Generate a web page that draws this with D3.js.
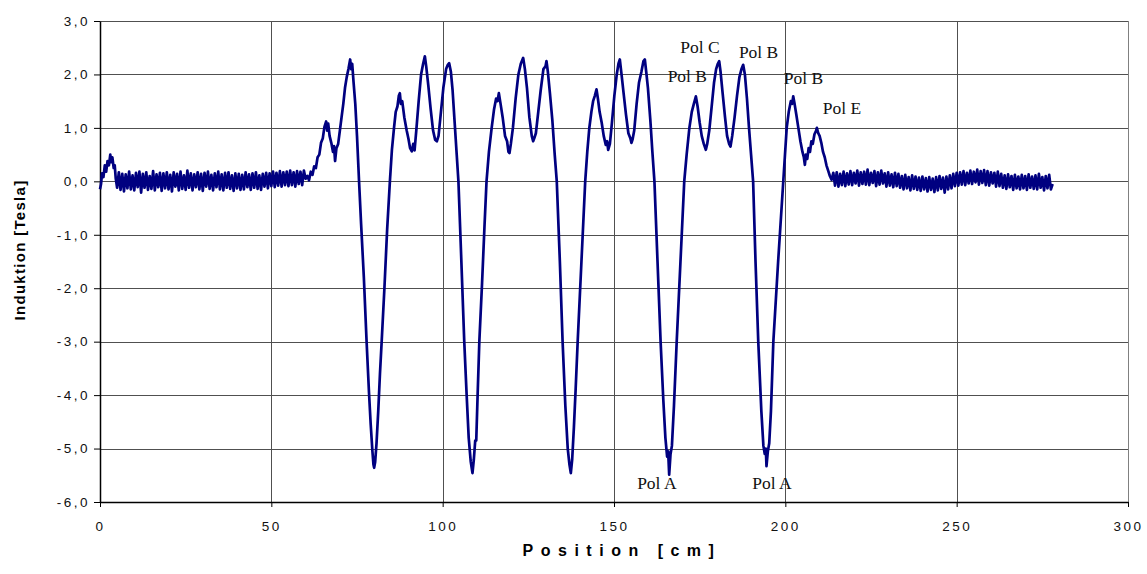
<!DOCTYPE html>
<html>
<head>
<meta charset="utf-8">
<script src="https://cdn.jsdelivr.net/npm/d3@7"></script>
<style>
  html, body { margin: 0; padding: 0; background: #fff; }
  svg { display: block; }
</style>
</head>
<body>
<svg id="chart" width="1147" height="574"></svg>
<script>
// Magnetic induction measured along the magnet (Position in cm, Induktion in Tesla)

// Start of the scan: short transient at the probe entry
const onset = [
  [0, -0.15], [0.3, -0.05], [0.6, 0.15], [1.0, 0.08], [1.4, 0.3], [1.8, 0.18],
  [2.2, 0.38], [2.6, 0.3], [3.0, 0.5], [3.3, 0.36], [3.6, 0.45], [4.0, 0.25],
  [4.3, 0.3], [4.6, 0.05]
];

// Baseline before the magnet, sampled every 0.5 cm from 5 cm
const baselineBeforeStart = 5;
const baselineStep = 0.5;
const baselineBefore = [
  -0.12, 0.17, -0.16, 0.14, -0.19, 0.13, -0.13, 0.18, -0.15, 0.11,
  -0.17, 0.16, -0.11, 0.18, -0.21, 0.14, -0.12, 0.17, -0.16, 0.10,
  -0.14, 0.19, -0.17, 0.13, -0.11, 0.16, -0.18, 0.15, -0.13, 0.17,
  -0.15, 0.12, -0.19, 0.17, -0.10, 0.14, -0.17, 0.18, -0.14, 0.11,
  -0.16, 0.20, -0.12, 0.15, -0.17, 0.13, -0.11, 0.17, -0.15, 0.14,
  -0.18, 0.16, -0.10, 0.18, -0.14, 0.12, -0.17, 0.15, -0.11, 0.18,
  -0.15, 0.13, -0.17, 0.16, -0.12, 0.17, -0.14, 0.11, -0.18, 0.15,
  -0.13, 0.14, -0.16, 0.12, -0.15, 0.17, -0.11, 0.13, -0.16, 0.15,
  -0.12, 0.17, -0.14, 0.11, -0.16, 0.14, -0.10, 0.16, -0.13, 0.15,
  -0.09, 0.18, -0.11, 0.16, -0.08, 0.19, -0.10, 0.17, -0.07, 0.18,
  -0.09, 0.20, -0.07, 0.17, -0.10, 0.19, -0.05, 0.18, -0.07, 0.20,
  0.05
];

// Pole section of the magnet
const magnetSection = [
  [60.5, 0.10], [61, 0.02], [61.5, 0.18], [62, 0.12], [62.5, 0.28], [63, 0.25],
  [63.5, 0.45], [64, 0.5], [64.5, 0.72], [65, 0.8], [65.5, 1.02], [66, 1.12],
  [66.3, 0.95], [66.6, 1.08], [67, 0.85], [67.5, 0.72], [68, 0.55], [68.3, 0.66],
  [68.6, 0.38], [69, 0.62], [69.5, 0.7], [70, 0.95], [70.5, 1.2], [71, 1.45],
  [71.5, 1.75], [72, 1.95], [72.5, 2.1], [73, 2.28], [73.3, 2.1], [73.6, 2.2],
  [74, 1.85], [74.5, 1.45], [75, 0.85], [75.6, 0.0], [76.2, -0.8], [77, -1.8],
  [77.8, -3.0], [78.5, -3.95], [79, -4.55], [79.5, -5.05], [79.8, -5.3], [80, -5.36],
  [80.3, -5.25], [80.7, -4.9], [81.2, -4.3], [81.7, -3.6], [82.2, -3.0], [83, -2.0],
  [83.8, -0.9], [84.6, 0.0], [85.2, 0.6], [85.8, 1.0], [86.3, 1.3], [86.8, 1.4],
  [87.2, 1.6], [87.5, 1.65], [87.8, 1.45], [88.2, 1.5], [88.8, 1.2], [89.5, 0.95],
  [90, 0.8], [90.5, 0.62], [91, 0.56], [91.4, 0.7], [91.8, 0.58], [92.3, 0.95],
  [93, 1.5], [93.7, 2.0], [94.3, 2.2], [94.8, 2.34], [95.2, 2.15], [95.8, 1.8],
  [96.5, 1.35], [97.2, 0.95], [97.8, 0.78], [98.3, 0.75], [98.8, 0.85], [99.5, 1.3],
  [100.2, 1.75], [101, 2.1], [101.5, 2.18], [101.9, 2.21], [102.4, 2.05], [102.9, 1.7],
  [103.5, 1.1], [104.1, 0.5], [104.6, 0.0], [105.4, -1.4], [106.3, -3.0], [107, -4.0],
  [107.6, -4.8], [108.2, -5.25], [108.7, -5.46], [109.1, -5.2], [109.5, -4.85], [109.8, -4.85],
  [110.2, -4.0], [110.7, -3.0], [111.5, -1.9], [112.2, -0.85], [112.8, 0.0], [113.5, 0.55],
  [114.3, 1.0], [115.0, 1.35], [115.6, 1.55], [116.0, 1.5], [116.4, 1.65], [116.9, 1.45],
  [117.5, 1.2], [118.2, 0.85], [118.8, 0.75], [119.2, 0.55], [119.5, 0.53], [119.9, 0.7],
  [120.5, 1.0], [121.3, 1.55], [122.1, 2.0], [122.8, 2.2], [123.5, 2.31], [124.0, 2.1],
  [124.6, 1.75], [125.3, 1.2], [126.0, 0.85], [126.4, 0.75], [126.7, 0.8], [127.2, 0.9],
  [127.9, 1.3], [128.6, 1.7], [129.4, 2.1], [130.0, 2.15], [130.3, 2.25], [130.7, 2.05],
  [131.3, 1.65], [132.0, 1.15], [132.7, 0.5], [133.3, 0.0], [134.2, -1.5], [135.0, -3.0],
  [135.8, -4.2], [136.5, -5.0], [137.0, -5.3], [137.4, -5.46], [137.8, -5.2], [138.3, -4.6],
  [138.8, -3.9], [139.4, -3.0], [140.5, -1.5], [141.6, 0.0], [142.2, 0.55], [142.8, 1.0],
  [143.4, 1.3], [143.9, 1.5], [144.4, 1.6], [144.9, 1.72], [145.3, 1.55], [145.8, 1.3],
  [146.4, 1.1], [147.0, 0.85], [147.6, 0.68], [148.0, 0.75], [148.3, 0.59], [148.8, 0.7],
  [149.4, 1.1], [150.1, 1.6], [150.8, 2.0], [151.3, 2.2], [151.7, 2.28], [152.2, 2.0],
  [152.8, 1.65], [153.5, 1.25], [154.2, 0.9], [154.8, 0.8], [155.1, 0.72], [155.4, 0.78],
  [155.9, 0.95], [156.6, 1.45], [157.3, 1.85], [158.0, 2.05], [158.6, 2.25], [159.0, 2.28],
  [159.4, 2.05], [159.9, 1.75], [160.6, 1.15], [161.2, 0.55], [161.8, 0.0], [162.7, -1.5],
  [163.6, -3.0], [164.4, -4.1], [165.0, -4.8], [165.5, -5.15], [165.8, -5.05], [166.1, -5.49],
  [166.5, -5.1], [166.9, -4.95], [167.5, -4.2], [168.3, -3.0], [169.4, -1.5], [170.5, 0.0],
  [171.2, 0.5], [172.0, 1.0], [172.7, 1.3], [173.3, 1.45], [173.9, 1.59], [174.4, 1.4],
  [175.0, 1.1], [175.6, 0.85], [176.2, 0.7], [176.8, 0.59], [177.2, 0.7], [177.8, 0.95],
  [178.5, 1.4], [179.2, 1.85], [179.8, 2.1], [180.3, 2.2], [180.7, 2.25], [181.1, 2.05],
  [181.7, 1.65], [182.4, 1.2], [183.0, 0.85], [183.6, 0.7], [184.0, 0.65], [184.5, 0.85],
  [185.2, 1.2], [185.9, 1.6], [186.6, 1.95], [187.2, 2.1], [187.7, 2.18], [188.2, 2.0],
  [188.8, 1.55], [189.4, 1.0], [190.0, 0.5], [190.6, 0.0], [191.3, -1.5], [192.1, -3.0],
  [193.0, -4.3], [193.6, -4.95], [194.0, -5.1], [194.3, -5.0], [194.5, -5.33], [194.9, -5.05],
  [195.3, -4.9], [195.8, -4.3], [196.5, -3.0], [197.9, -1.5], [199.4, 0.0], [199.9, 0.5],
  [200.4, 1.0], [201.0, 1.3], [201.6, 1.5], [202.0, 1.45], [202.3, 1.59], [202.7, 1.45],
  [203.2, 1.25], [203.8, 1.0], [204.4, 0.75], [205.0, 0.55], [205.4, 0.45], [205.7, 0.31],
  [206.0, 0.5], [206.4, 0.42], [206.8, 0.62], [207.2, 0.55], [207.6, 0.75], [208.0, 0.7],
  [208.5, 0.88], [209.0, 0.95], [209.2, 1.0], [209.6, 0.9], [210.0, 0.85], [210.5, 0.72],
  [211.0, 0.55], [211.5, 0.45], [212.0, 0.3], [212.5, 0.2], [213.0, 0.1], [213.5, 0.03]
];

// Baseline after the magnet, sampled every 0.5 cm from 214 cm
const baselineAfterStart = 214;
const baselineAfter = [
  0.16, -0.08, 0.17, -0.10, 0.14, -0.07, 0.18, -0.09, 0.15, -0.06,
  0.19, -0.07, 0.16, -0.04, 0.20, -0.08, 0.17, -0.05, 0.18, -0.06,
  0.22, -0.07, 0.16, -0.03, 0.19, -0.09, 0.17, -0.06, 0.20, -0.04,
  0.15, -0.10, 0.17, -0.08, 0.13, -0.11, 0.16, -0.09, 0.14, -0.12,
  0.10, -0.15, 0.12, -0.13, 0.08, -0.17, 0.11, -0.14, 0.09, -0.16,
  0.07, -0.18, 0.09, -0.15, 0.06, -0.19, 0.08, -0.16, 0.05, -0.20,
  0.08, -0.17, 0.10, -0.14, 0.07, -0.21, 0.09, -0.15, 0.11, -0.13,
  0.14, -0.09, 0.16, -0.08, 0.17, -0.06, 0.19, -0.07, 0.16, -0.04,
  0.20, -0.05, 0.18, -0.02, 0.22, -0.06, 0.19, -0.03, 0.21, -0.07,
  0.19, -0.08, 0.17, -0.04, 0.16, -0.10, 0.18, -0.09, 0.14, -0.12,
  0.11, -0.14, 0.13, -0.11, 0.10, -0.16, 0.12, -0.13, 0.09, -0.15,
  0.12, -0.13, 0.10, -0.16, 0.13, -0.12, 0.09, -0.14, 0.11, -0.15,
  0.14, -0.12, 0.08, -0.17, 0.10, -0.13, 0.12, -0.15, -0.05
];

// Axis ticks
const xTicks = [0, 50, 100, 150, 200, 250, 300];
const yTicks = [3, 2, 1, 0, -1, -2, -3, -4, -5, -6];

// Pole annotations: name and anchor (cm, Tesla)
const poleNames = ["Pol C", "Pol B", "Pol B", "Pol B", "Pol E", "Pol A", "Pol A"];
const poleAnchors = [
  [175.1, 2.40], [171.4, 1.85], [192.2, 2.30], [205.3, 1.83],
  [216.5, 1.26], [162.5, -5.75], [196.1, -5.75]
];

const series = [
  ...onset,
  ...baselineBefore.map((v, i) => [baselineBeforeStart + i * baselineStep, v]),
  ...magnetSection,
  ...baselineAfter.map((v, i) => [baselineAfterStart + i * baselineStep, v])
];

const svg = d3.select("#chart");
const x = d3.scaleLinear().domain([0, 300]).range([100, 1128]);
const y = d3.scaleLinear().domain([-6, 3]).range([502, 21]);

// Decimal comma and plain hyphen for negative values
const fmt = v => v.toFixed(1).replace(".", ",");

// Gridlines
const grid = svg.append("g").attr("shape-rendering", "crispEdges");
grid.selectAll("line.h").data(yTicks).join("line")
  .attr("x1", x(0)).attr("x2", x(300))
  .attr("y1", d => Math.round(y(d)) + 0.5).attr("y2", d => Math.round(y(d)) + 0.5)
  .attr("stroke", "#505050").attr("stroke-width", 1);
grid.selectAll("line.v").data(xTicks.filter(d => d > 0)).join("line")
  .attr("y1", y(3)).attr("y2", y(-6))
  .attr("x1", d => Math.round(x(d)) + 0.5).attr("x2", d => Math.round(x(d)) + 0.5)
  .attr("stroke", d => d === 300 ? "#808080" : "#505050").attr("stroke-width", 1);

// Axes
const xAxis = d3.axisBottom(x).tickValues(xTicks).tickSize(5).tickSizeOuter(0).tickFormat(d3.format("d"));
const yAxis = d3.axisLeft(y).tickValues(yTicks).tickSize(6).tickSizeOuter(0).tickFormat(fmt);

const gx = svg.append("g").attr("transform", `translate(0,${y(-6)})`).call(xAxis);
const gy = svg.append("g").attr("transform", `translate(${x(0)},0)`).call(yAxis);

[gx, gy].forEach(g => {
  g.select(".domain").attr("stroke", "#000").attr("stroke-width", 1.5);
  g.selectAll(".tick line").attr("stroke", "#000").attr("stroke-width", 1);
  g.selectAll(".tick text")
    .attr("fill", "#111")
    .style("font-family", "'Liberation Sans', Arial, sans-serif")
    .style("font-size", "13.5px")
    .style("letter-spacing", "2.5px");
});
gx.selectAll(".tick text").attr("dy", "1.55em");
gy.selectAll(".tick text").attr("x", -10);

// Measured curve
const line = d3.line().x(d => x(d[0])).y(d => y(d[1]));
svg.append("path")
  .datum(series)
  .attr("d", line)
  .attr("fill", "none")
  .attr("stroke", "#000080")
  .attr("stroke-width", 2.7)
  .attr("stroke-linejoin", "round");

// Pole annotations
svg.append("g").selectAll("text").data(poleNames).join("text")
  .attr("x", (d, i) => x(poleAnchors[i][0]))
  .attr("y", (d, i) => y(poleAnchors[i][1]))
  .attr("text-anchor", "middle")
  .style("font-family", "'Liberation Serif', 'Times New Roman', serif")
  .style("font-size", "17.5px")
  .attr("fill", "#111")
  .text(d => d);

// Axis titles
svg.append("text")
  .attr("transform", `translate(25,250) rotate(-90)`)
  .attr("text-anchor", "middle")
  .style("font-family", "'Liberation Sans', Arial, sans-serif")
  .style("font-size", "15px")
  .style("font-weight", "bold")
  .style("letter-spacing", "1.3px")
  .text("Induktion [Tesla]");

svg.append("text")
  .attr("x", 622).attr("y", 556)
  .attr("text-anchor", "middle")
  .style("font-family", "'Liberation Sans', Arial, sans-serif")
  .style("font-size", "16px")
  .style("font-weight", "bold")
  .style("letter-spacing", "7.5px")
  .text("Position [cm]");
</script>
</body>
</html>
